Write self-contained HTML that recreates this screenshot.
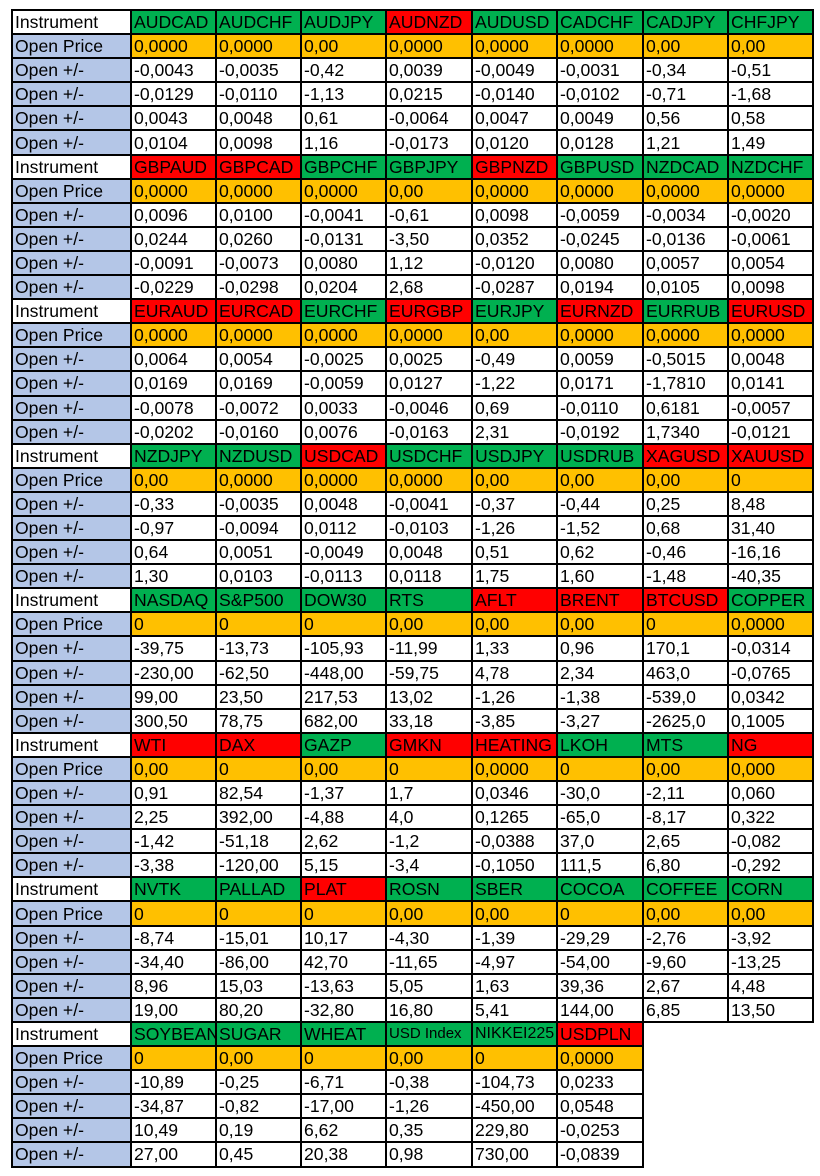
<!DOCTYPE html>
<html><head><meta charset="utf-8"><style>
body{margin:0;background:#fff;width:820px;height:1176px;overflow:hidden}
table{position:absolute;left:11px;top:9px;width:801px;border-collapse:collapse;table-layout:fixed;font-family:"Liberation Sans",sans-serif;font-size:17.6px;color:#000}
td{border:2px solid #000;height:20px;padding:0 0 0 2px;white-space:nowrap;overflow:hidden;line-height:20px}
tr{height:24.1px}
td.e{border:none}
.g{background:#00b050}.r{background:#ff0000}.o{background:#ffc000}.b{background:#b4c6e7}
</style></head><body>
<table>
<colgroup><col style="width:119px"><col style="width:85px"><col style="width:85px"><col style="width:85px"><col style="width:86px"><col style="width:85px"><col style="width:86px"><col style="width:85px"><col style="width:85px"></colgroup>
<tr><td>Instrument</td><td class="g">AUDCAD</td><td class="g">AUDCHF</td><td class="g">AUDJPY</td><td class="r">AUDNZD</td><td class="g">AUDUSD</td><td class="g">CADCHF</td><td class="g">CADJPY</td><td class="g">CHFJPY</td></tr>
<tr><td class="b">Open Price</td><td class="o">0,0000</td><td class="o">0,0000</td><td class="o">0,00</td><td class="o">0,0000</td><td class="o">0,0000</td><td class="o">0,0000</td><td class="o">0,00</td><td class="o">0,00</td></tr>
<tr><td class="b">Open +/-</td><td>-0,0043</td><td>-0,0035</td><td>-0,42</td><td>0,0039</td><td>-0,0049</td><td>-0,0031</td><td>-0,34</td><td>-0,51</td></tr>
<tr><td class="b">Open +/-</td><td>-0,0129</td><td>-0,0110</td><td>-1,13</td><td>0,0215</td><td>-0,0140</td><td>-0,0102</td><td>-0,71</td><td>-1,68</td></tr>
<tr><td class="b">Open +/-</td><td>0,0043</td><td>0,0048</td><td>0,61</td><td>-0,0064</td><td>0,0047</td><td>0,0049</td><td>0,56</td><td>0,58</td></tr>
<tr><td class="b">Open +/-</td><td>0,0104</td><td>0,0098</td><td>1,16</td><td>-0,0173</td><td>0,0120</td><td>0,0128</td><td>1,21</td><td>1,49</td></tr>
<tr><td>Instrument</td><td class="r">GBPAUD</td><td class="r">GBPCAD</td><td class="g">GBPCHF</td><td class="g">GBPJPY</td><td class="r">GBPNZD</td><td class="g">GBPUSD</td><td class="g">NZDCAD</td><td class="g">NZDCHF</td></tr>
<tr><td class="b">Open Price</td><td class="o">0,0000</td><td class="o">0,0000</td><td class="o">0,0000</td><td class="o">0,00</td><td class="o">0,0000</td><td class="o">0,0000</td><td class="o">0,0000</td><td class="o">0,0000</td></tr>
<tr><td class="b">Open +/-</td><td>0,0096</td><td>0,0100</td><td>-0,0041</td><td>-0,61</td><td>0,0098</td><td>-0,0059</td><td>-0,0034</td><td>-0,0020</td></tr>
<tr><td class="b">Open +/-</td><td>0,0244</td><td>0,0260</td><td>-0,0131</td><td>-3,50</td><td>0,0352</td><td>-0,0245</td><td>-0,0136</td><td>-0,0061</td></tr>
<tr><td class="b">Open +/-</td><td>-0,0091</td><td>-0,0073</td><td>0,0080</td><td>1,12</td><td>-0,0120</td><td>0,0080</td><td>0,0057</td><td>0,0054</td></tr>
<tr><td class="b">Open +/-</td><td>-0,0229</td><td>-0,0298</td><td>0,0204</td><td>2,68</td><td>-0,0287</td><td>0,0194</td><td>0,0105</td><td>0,0098</td></tr>
<tr><td>Instrument</td><td class="r">EURAUD</td><td class="r">EURCAD</td><td class="g">EURCHF</td><td class="r">EURGBP</td><td class="g">EURJPY</td><td class="r">EURNZD</td><td class="g">EURRUB</td><td class="r">EURUSD</td></tr>
<tr><td class="b">Open Price</td><td class="o">0,0000</td><td class="o">0,0000</td><td class="o">0,0000</td><td class="o">0,0000</td><td class="o">0,00</td><td class="o">0,0000</td><td class="o">0,0000</td><td class="o">0,0000</td></tr>
<tr><td class="b">Open +/-</td><td>0,0064</td><td>0,0054</td><td>-0,0025</td><td>0,0025</td><td>-0,49</td><td>0,0059</td><td>-0,5015</td><td>0,0048</td></tr>
<tr><td class="b">Open +/-</td><td>0,0169</td><td>0,0169</td><td>-0,0059</td><td>0,0127</td><td>-1,22</td><td>0,0171</td><td>-1,7810</td><td>0,0141</td></tr>
<tr><td class="b">Open +/-</td><td>-0,0078</td><td>-0,0072</td><td>0,0033</td><td>-0,0046</td><td>0,69</td><td>-0,0110</td><td>0,6181</td><td>-0,0057</td></tr>
<tr><td class="b">Open +/-</td><td>-0,0202</td><td>-0,0160</td><td>0,0076</td><td>-0,0163</td><td>2,31</td><td>-0,0192</td><td>1,7340</td><td>-0,0121</td></tr>
<tr><td>Instrument</td><td class="g">NZDJPY</td><td class="g">NZDUSD</td><td class="r">USDCAD</td><td class="g">USDCHF</td><td class="g">USDJPY</td><td class="g">USDRUB</td><td class="r">XAGUSD</td><td class="r">XAUUSD</td></tr>
<tr><td class="b">Open Price</td><td class="o">0,00</td><td class="o">0,0000</td><td class="o">0,0000</td><td class="o">0,0000</td><td class="o">0,00</td><td class="o">0,00</td><td class="o">0,00</td><td class="o">0</td></tr>
<tr><td class="b">Open +/-</td><td>-0,33</td><td>-0,0035</td><td>0,0048</td><td>-0,0041</td><td>-0,37</td><td>-0,44</td><td>0,25</td><td>8,48</td></tr>
<tr><td class="b">Open +/-</td><td>-0,97</td><td>-0,0094</td><td>0,0112</td><td>-0,0103</td><td>-1,26</td><td>-1,52</td><td>0,68</td><td>31,40</td></tr>
<tr><td class="b">Open +/-</td><td>0,64</td><td>0,0051</td><td>-0,0049</td><td>0,0048</td><td>0,51</td><td>0,62</td><td>-0,46</td><td>-16,16</td></tr>
<tr><td class="b">Open +/-</td><td>1,30</td><td>0,0103</td><td>-0,0113</td><td>0,0118</td><td>1,75</td><td>1,60</td><td>-1,48</td><td>-40,35</td></tr>
<tr><td>Instrument</td><td class="g">NASDAQ</td><td class="g">S&amp;P500</td><td class="g">DOW30</td><td class="g">RTS</td><td class="r">AFLT</td><td class="r">BRENT</td><td class="r">BTCUSD</td><td class="g">COPPER</td></tr>
<tr><td class="b">Open Price</td><td class="o">0</td><td class="o">0</td><td class="o">0</td><td class="o">0,00</td><td class="o">0,00</td><td class="o">0,00</td><td class="o">0</td><td class="o">0,0000</td></tr>
<tr><td class="b">Open +/-</td><td>-39,75</td><td>-13,73</td><td>-105,93</td><td>-11,99</td><td>1,33</td><td>0,96</td><td>170,1</td><td>-0,0314</td></tr>
<tr><td class="b">Open +/-</td><td>-230,00</td><td>-62,50</td><td>-448,00</td><td>-59,75</td><td>4,78</td><td>2,34</td><td>463,0</td><td>-0,0765</td></tr>
<tr><td class="b">Open +/-</td><td>99,00</td><td>23,50</td><td>217,53</td><td>13,02</td><td>-1,26</td><td>-1,38</td><td>-539,0</td><td>0,0342</td></tr>
<tr><td class="b">Open +/-</td><td>300,50</td><td>78,75</td><td>682,00</td><td>33,18</td><td>-3,85</td><td>-3,27</td><td>-2625,0</td><td>0,1005</td></tr>
<tr><td>Instrument</td><td class="r">WTI</td><td class="r">DAX</td><td class="g">GAZP</td><td class="r">GMKN</td><td class="r">HEATING</td><td class="g">LKOH</td><td class="g">MTS</td><td class="r">NG</td></tr>
<tr><td class="b">Open Price</td><td class="o">0,00</td><td class="o">0</td><td class="o">0,00</td><td class="o">0</td><td class="o">0,0000</td><td class="o">0</td><td class="o">0,00</td><td class="o">0,000</td></tr>
<tr><td class="b">Open +/-</td><td>0,91</td><td>82,54</td><td>-1,37</td><td>1,7</td><td>0,0346</td><td>-30,0</td><td>-2,11</td><td>0,060</td></tr>
<tr><td class="b">Open +/-</td><td>2,25</td><td>392,00</td><td>-4,88</td><td>4,0</td><td>0,1265</td><td>-65,0</td><td>-8,17</td><td>0,322</td></tr>
<tr><td class="b">Open +/-</td><td>-1,42</td><td>-51,18</td><td>2,62</td><td>-1,2</td><td>-0,0388</td><td>37,0</td><td>2,65</td><td>-0,082</td></tr>
<tr><td class="b">Open +/-</td><td>-3,38</td><td>-120,00</td><td>5,15</td><td>-3,4</td><td>-0,1050</td><td>111,5</td><td>6,80</td><td>-0,292</td></tr>
<tr><td>Instrument</td><td class="g">NVTK</td><td class="g">PALLAD</td><td class="r">PLAT</td><td class="g">ROSN</td><td class="g">SBER</td><td class="g">COCOA</td><td class="g">COFFEE</td><td class="g">CORN</td></tr>
<tr><td class="b">Open Price</td><td class="o">0</td><td class="o">0</td><td class="o">0</td><td class="o">0,00</td><td class="o">0,00</td><td class="o">0</td><td class="o">0,00</td><td class="o">0,00</td></tr>
<tr><td class="b">Open +/-</td><td>-8,74</td><td>-15,01</td><td>10,17</td><td>-4,30</td><td>-1,39</td><td>-29,29</td><td>-2,76</td><td>-3,92</td></tr>
<tr><td class="b">Open +/-</td><td>-34,40</td><td>-86,00</td><td>42,70</td><td>-11,65</td><td>-4,97</td><td>-54,00</td><td>-9,60</td><td>-13,25</td></tr>
<tr><td class="b">Open +/-</td><td>8,96</td><td>15,03</td><td>-13,63</td><td>5,05</td><td>1,63</td><td>39,36</td><td>2,67</td><td>4,48</td></tr>
<tr><td class="b">Open +/-</td><td>19,00</td><td>80,20</td><td>-32,80</td><td>16,80</td><td>5,41</td><td>144,00</td><td>6,85</td><td>13,50</td></tr>
<tr><td>Instrument</td><td class="g">SOYBEAN</td><td class="g">SUGAR</td><td class="g">WHEAT</td><td class="g" style="font-size:15px">USD Index</td><td class="g" style="font-size:16px">NIKKEI225</td><td class="r">USDPLN</td><td class="e"></td><td class="e"></td></tr>
<tr><td class="b">Open Price</td><td class="o">0</td><td class="o">0,00</td><td class="o">0</td><td class="o">0,00</td><td class="o">0</td><td class="o">0,0000</td><td class="e"></td><td class="e"></td></tr>
<tr><td class="b">Open +/-</td><td>-10,89</td><td>-0,25</td><td>-6,71</td><td>-0,38</td><td>-104,73</td><td>0,0233</td><td class="e"></td><td class="e"></td></tr>
<tr><td class="b">Open +/-</td><td>-34,87</td><td>-0,82</td><td>-17,00</td><td>-1,26</td><td>-450,00</td><td>0,0548</td><td class="e"></td><td class="e"></td></tr>
<tr><td class="b">Open +/-</td><td>10,49</td><td>0,19</td><td>6,62</td><td>0,35</td><td>229,80</td><td>-0,0253</td><td class="e"></td><td class="e"></td></tr>
<tr><td class="b">Open +/-</td><td>27,00</td><td>0,45</td><td>20,38</td><td>0,98</td><td>730,00</td><td>-0,0839</td><td class="e"></td><td class="e"></td></tr>
</table>
</body></html>
